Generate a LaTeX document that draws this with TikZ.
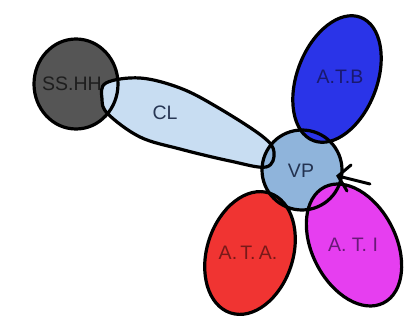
\documentclass[tikz,border=0pt]{standalone}
\usepackage{fontspec}
\setmainfont{Liberation Sans}
\definecolor{sshh}{RGB}{85,85,85}
\definecolor{clc}{RGB}{200,221,242}
\definecolor{vpc}{RGB}{143,180,219}
\definecolor{atbc}{RGB}{42,52,232}
\definecolor{atac}{RGB}{240,52,50}
\definecolor{atic}{RGB}{230,62,240}
\tikzset{
  outl/.style={draw=black, line width=3.2pt},
  lbl/.style={font=\fontsize{19.5pt}{20pt}\selectfont, inner sep=0pt},
  markline/.style={draw=black, line width=3pt, line cap=round}
}
\begin{document}
\begin{tikzpicture}[x=1pt,y=-1pt]
\useasboundingbox (0,0) rectangle (417,326);
% shape paths
\def\shssh{(76,84) ellipse [x radius=42pt, y radius=45pt]}
\def\shcl{plot[smooth cycle, tension=0.6] coordinates {(106,83) (140,78) (180,88) (217,107) (262,136) (274,152) (266,167) (230,161) (180,149) (140,137) (108,114) (102,99)}}
\def\shvp{(302,170) circle [radius=40pt]}
\def\shatb{(337,79) ellipse [x radius=40pt, y radius=66pt, rotate=-21]}
\def\shata{(250,253) ellipse [x radius=43pt, y radius=63pt, rotate=-18]}
\def\shati{(354,245) ellipse [x radius=42pt, y radius=65pt, rotate=27]}
% fills
\fill[sshh] \shssh;
\fill[clc] \shcl;
\fill[vpc] \shvp;
\fill[atbc] \shatb;
\fill[atac] \shata;
\fill[atic] \shati;
% outlines
\draw[outl] \shssh;
\draw[outl] \shcl;
\draw[outl] \shvp;
\draw[outl] \shatb;
\draw[outl] \shata;
\draw[outl] \shati;
% labels
\node[lbl, text={rgb,255:red,30;green,30;blue,30}] (lsshh) at (72,84) {SS.HH};
\node[lbl, text={rgb,255:red,40;green,55;blue,85}] (lcl) at (165,113) {CL};
\node[lbl, text={rgb,255:red,35;green,50;blue,80}] (lvp) at (301,171) {VP};
\node[lbl, text={rgb,255:red,25;green,25;blue,110}] (latb) at (340,77) {A.T.B};
\node[lbl, text={rgb,255:red,120;green,25;blue,25}] (lata) at (248,253) {A.\,T.\,A.};
\node[lbl, text={rgb,255:red,105;green,25;blue,120}] (lati) at (353,245) {A.\ T.\ I};
% mark
\coordinate (tip) at (338,176);
\coordinate (tail) at (370,184);
\coordinate (leg1) at (351,165);
\coordinate (leg2) at (347,191);
\draw[markline] (tail) -- (tip);
\draw[markline] (leg1) -- (tip) -- (leg2);
\end{tikzpicture}
\end{document}
